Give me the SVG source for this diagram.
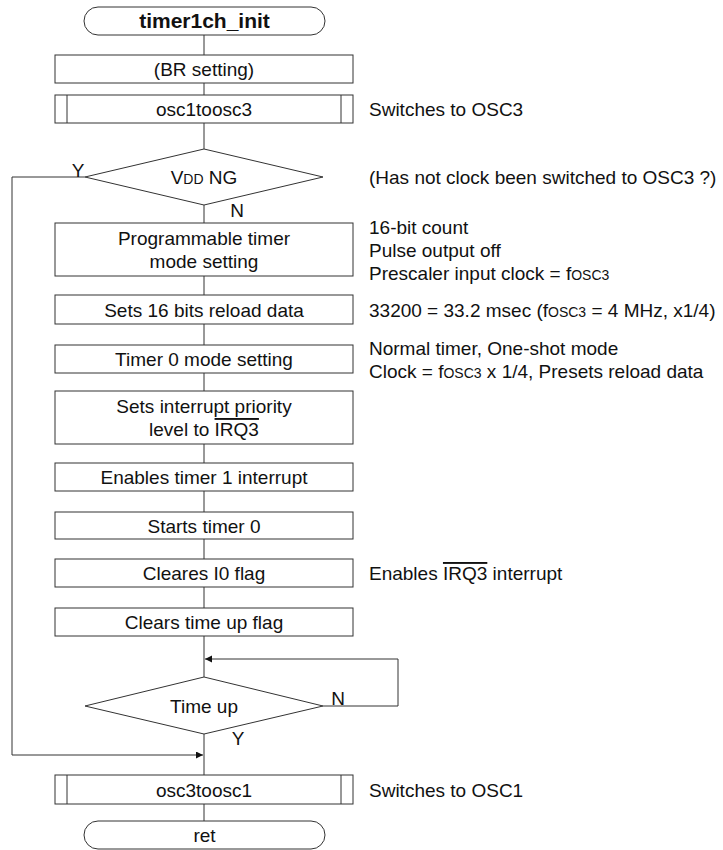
<svg xmlns="http://www.w3.org/2000/svg" width="723" height="850" viewBox="0 0 723 850">
<defs>
<style>
.s{fill:#fff;stroke:#333;stroke-width:1}
.c{fill:none;stroke:#333;stroke-width:1}
text{font-family:"Liberation Sans",Arial,sans-serif;font-size:19px;fill:#111}
.m{text-anchor:middle}
.b{font-weight:bold;font-size:21px}
.sc{font-size:14px}
.ov{text-decoration:overline}
</style>
<marker id="ah" markerWidth="8" markerHeight="8" refX="7" refY="3.5" orient="auto" markerUnits="userSpaceOnUse">
<path d="M0,0 L7,3.5 L0,7 Z" fill="#111"/>
</marker>
</defs>
<rect width="723" height="850" fill="#fff"/>
<g id="connectors">
<line class="c" x1="204" y1="35" x2="204" y2="55"/>
<line class="c" x1="204" y1="83" x2="204" y2="95"/>
<line class="c" x1="204" y1="123" x2="204" y2="149"/>
<line class="c" x1="204" y1="205" x2="204" y2="223"/>
<line class="c" x1="204" y1="276" x2="204" y2="295"/>
<line class="c" x1="204" y1="324" x2="204" y2="345"/>
<line class="c" x1="204" y1="373" x2="204" y2="391"/>
<line class="c" x1="204" y1="444" x2="204" y2="463"/>
<line class="c" x1="204" y1="491" x2="204" y2="512"/>
<line class="c" x1="204" y1="539" x2="204" y2="559"/>
<line class="c" x1="204" y1="587" x2="204" y2="608"/>
<line class="c" x1="204" y1="636" x2="204" y2="677"/>
<line class="c" x1="204" y1="734" x2="204" y2="775"/>
<line class="c" x1="204" y1="804" x2="204" y2="821"/>
<polyline class="c" points="85,177 12,177 12,755 203,755" marker-end="url(#ah)"/>
<polyline class="c" points="323,706 398,706 398,659 205,659" marker-end="url(#ah)"/>
<text x="78" y="177" class="m">Y</text>
<text x="237" y="217" class="m">N</text>
<text x="338" y="705" class="m">N</text>
<text x="238" y="745" class="m">Y</text>
</g>
<g id="start">
<rect class="s" x="84" y="7" width="241" height="28" rx="14" ry="14"/>
<text x="204.5" y="28" class="m b">timer1ch_init</text>
</g>
<g id="br">
<rect class="s" x="55" y="55" width="298" height="28"/>
<text x="204" y="76" class="m">(BR setting)</text>
</g>
<g id="osc1toosc3">
<rect class="s" x="55" y="95" width="298" height="28"/>
<line class="c" x1="67" y1="95" x2="67" y2="123"/>
<line class="c" x1="341" y1="95" x2="341" y2="123"/>
<text x="204" y="116" class="m">osc1toosc3</text>
<text x="369" y="116">Switches to OSC3</text>
</g>
<g id="vddng">
<polygon class="s" points="204,149 323,177 204,205 85,177"/>
<text x="204" y="184" class="m">V<tspan class="sc">DD</tspan> NG</text>
<text x="369" y="184">(Has not clock been switched to OSC3 ?)</text>
</g>
<g id="progmode">
<rect class="s" x="55" y="223" width="298" height="53"/>
<text x="204" y="245" class="m">Programmable timer</text>
<text x="204" y="268" class="m">mode setting</text>
<text x="369" y="233.5">16-bit count</text>
<text x="369" y="256.5">Pulse output off</text>
<text x="369" y="279.5">Prescaler input clock = f<tspan class="sc">OSC3</tspan></text>
</g>
<g id="reload">
<rect class="s" x="55" y="295" width="298" height="29"/>
<text x="204" y="316.5" class="m">Sets 16 bits reload data</text>
<text x="369" y="316.5">33200 = 33.2 msec (f<tspan class="sc">OSC3</tspan> = 4 MHz, x1/4)</text>
</g>
<g id="timer0mode">
<rect class="s" x="55" y="345" width="298" height="28"/>
<text x="204" y="366" class="m">Timer 0 mode setting</text>
<text x="369" y="354.5">Normal timer, One-shot mode</text>
<text x="369" y="377.5">Clock = f<tspan class="sc">OSC3</tspan> x 1/4, Presets reload data</text>
</g>
<g id="priority">
<rect class="s" x="55" y="391" width="298" height="53"/>
<text x="204" y="413" class="m">Sets interrupt priority</text>
<text x="204" y="436" class="m">level to <tspan class="ov">IRQ3</tspan></text>
</g>
<g id="enable">
<rect class="s" x="55" y="463" width="298" height="28"/>
<text x="204" y="484" class="m">Enables timer 1 interrupt</text>
</g>
<g id="start0">
<rect class="s" x="55" y="512" width="298" height="27"/>
<text x="204" y="532.5" class="m">Starts timer 0</text>
</g>
<g id="clearI0">
<rect class="s" x="55" y="559" width="298" height="28"/>
<text x="204" y="580" class="m">Cleares I0 flag</text>
<text x="369" y="580">Enables <tspan class="ov">IRQ3</tspan> interrupt</text>
</g>
<g id="cleartimeup">
<rect class="s" x="55" y="608" width="298" height="28"/>
<text x="204" y="629" class="m">Clears time up flag</text>
</g>
<g id="timeup">
<polygon class="s" points="204,677 323,706 204,734 85,706"/>
<text x="204" y="713" class="m">Time up</text>
</g>
<g id="osc3toosc1">
<rect class="s" x="55" y="775" width="298" height="29"/>
<line class="c" x1="67" y1="775" x2="67" y2="804"/>
<line class="c" x1="341" y1="775" x2="341" y2="804"/>
<text x="204" y="796.5" class="m">osc3toosc1</text>
<text x="369" y="796.5">Switches to OSC1</text>
</g>
<g id="ret">
<rect class="s" x="84" y="821" width="241" height="28" rx="14" ry="14"/>
<text x="204.5" y="842" class="m">ret</text>
</g>
</svg>
